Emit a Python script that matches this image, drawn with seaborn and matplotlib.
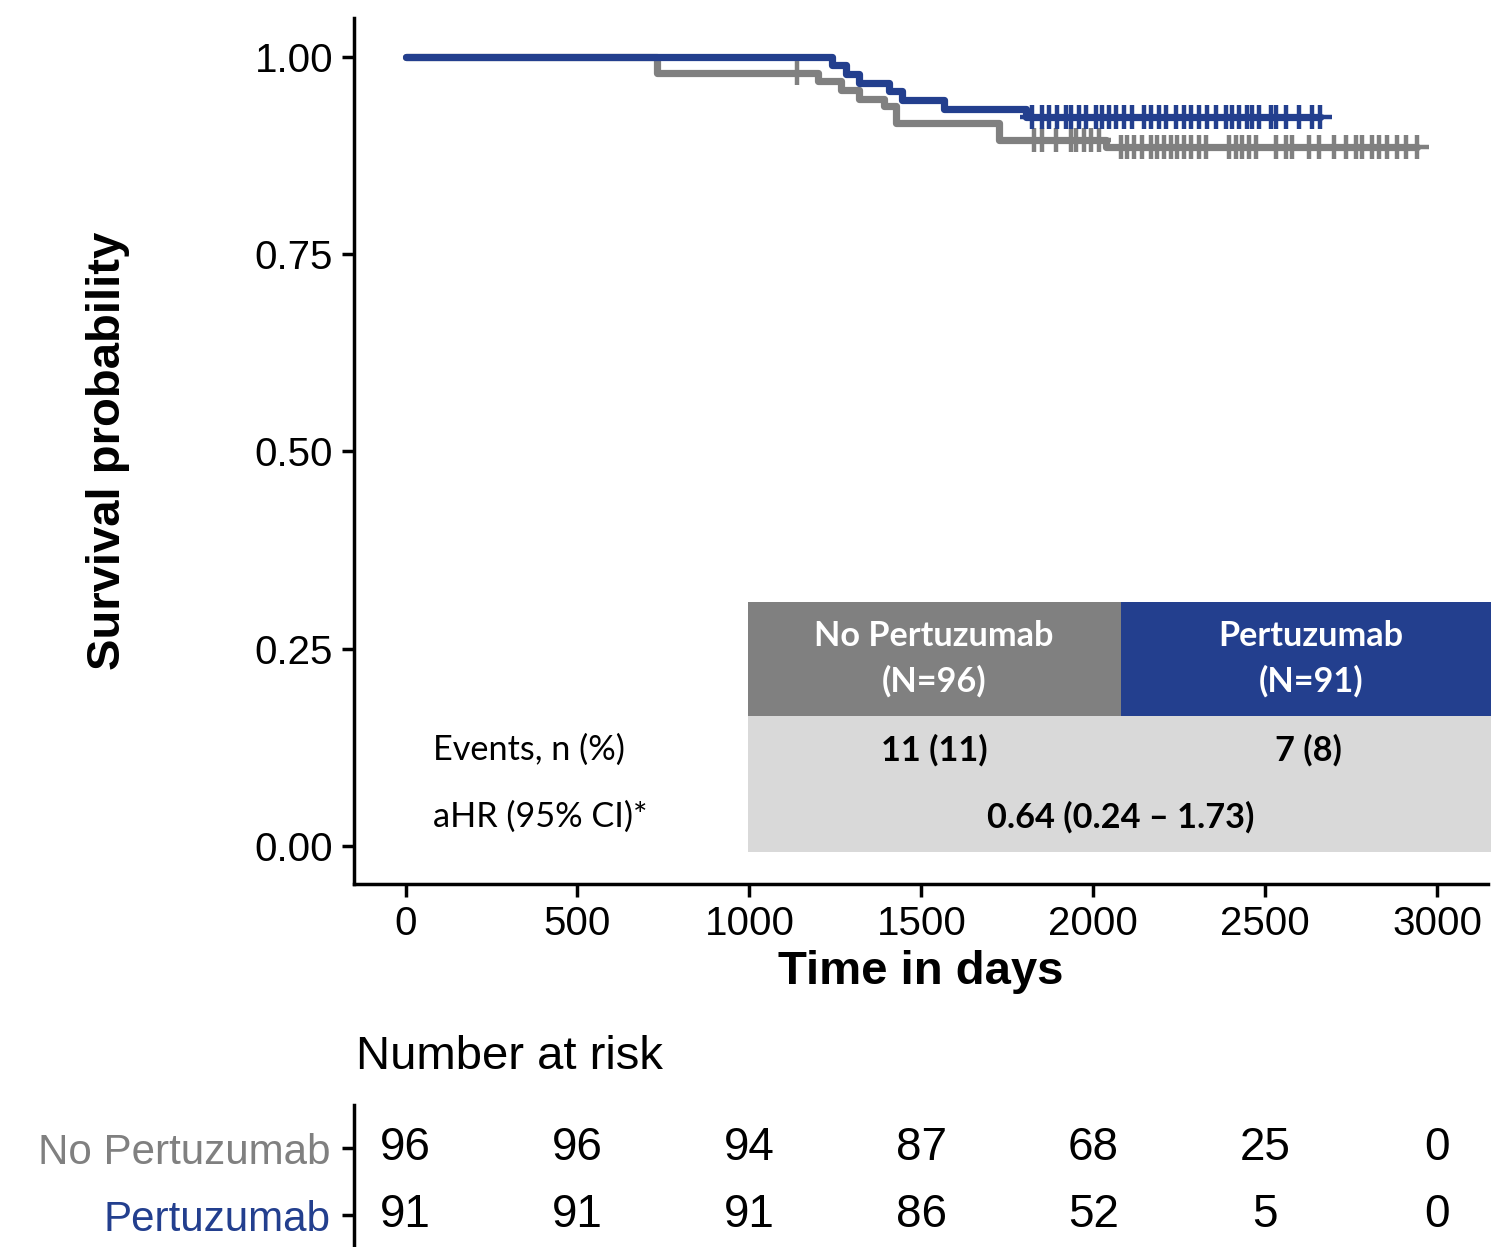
import numpy as np
import pandas as pd
import seaborn as sns
import matplotlib.pyplot as plt
from matplotlib.patches import Rectangle

# survival steps (time in days, survival after the step)
no_pertu_times = [0, 730, 1198, 1267, 1320, 1392, 1427, 1727, 2038]
no_pertu_surv = [1.0, 0.979, 0.969, 0.958, 0.947, 0.937, 0.916, 0.895, 0.885]
no_pertu_end = 2942
no_pertu_censor = [1137, 1828, 1852, 1892, 1936, 1951, 1974, 1994, 2017,
                   2081, 2099, 2119, 2142, 2169, 2186, 2206, 2227, 2244, 2265,
                   2285, 2308, 2328, 2395, 2416, 2433, 2453, 2474, 2532, 2561,
                   2578, 2628, 2657, 2701, 2736, 2765, 2782, 2811, 2831, 2855,
                   2884, 2910, 2942]

pertu_times = [0, 1241, 1282, 1320, 1407, 1445, 1567, 1805]
pertu_surv = [1.0, 0.989, 0.978, 0.967, 0.956, 0.945, 0.934, 0.923]
pertu_end = 2660
pertu_censor = [1823, 1852, 1872, 1895, 1922, 1936, 1959, 1980, 2009, 2026,
                2047, 2067, 2090, 2113, 2148, 2169, 2192, 2212, 2241, 2265,
                2285, 2308, 2331, 2358, 2387, 2404, 2424, 2448, 2462, 2483,
                2517, 2532, 2561, 2599, 2637, 2660]

groups = ['No Pertuzumab', 'Pertuzumab']
risk_times = [0, 500, 1000, 1500, 2000, 2500, 3000]
risk_no_pertu = [96, 96, 94, 87, 68, 25, 0]
risk_pertu = [91, 91, 91, 86, 52, 5, 0]

events = ['11 (11)', '7 (8)']
n_total = [96, 91]
ahr_text = '0.64 (0.24 \u2013 1.73)'

GRAY = '#808080'
BLUE = '#233f8e'
palette = {groups[0]: GRAY, groups[1]: BLUE}

sns.set_theme(style='ticks')
plt.rcParams['font.family'] = ['Liberation Sans', 'DejaVu Sans']
plt.rcParams.update({'text.color': 'black', 'axes.labelcolor': 'black',
                     'xtick.color': 'black', 'ytick.color': 'black'})
TFONT = ['Lato', 'DejaVu Sans']
TSIZE = 24.7

W, H = 1491, 1247
fig = plt.figure(figsize=(W / 100, H / 100), dpi=100)


def fx(px):
    return px / W


def fy(py):
    return 1 - py / H


ax = fig.add_axes([fx(354), fy(884), fx(1488) - fx(354), fy(18) - fy(884)])

rows = []
for g, t, s, end in [(groups[0], no_pertu_times, no_pertu_surv, no_pertu_end),
                     (groups[1], pertu_times, pertu_surv, pertu_end)]:
    for ti, si in zip(list(t) + [end], list(s) + [s[-1]]):
        rows.append({'group': g, 'time': ti, 'surv': si})
curves = pd.DataFrame(rows)

sns.lineplot(data=curves, x='time', y='surv', hue='group', palette=palette,
             estimator=None, sort=False, drawstyle='steps-post', lw=5.2,
             legend=False, ax=ax)

cens_rows = []
for g, t, s, c in [(groups[0], no_pertu_times, no_pertu_surv, no_pertu_censor),
                   (groups[1], pertu_times, pertu_surv, pertu_censor)]:
    idx = np.searchsorted(t, c, side='right') - 1
    for ci, ii in zip(c, idx):
        cens_rows.append({'group': g, 'time': ci, 'surv': s[ii]})
cens = pd.DataFrame(cens_rows)
sns.scatterplot(data=cens, x='time', y='surv', hue='group', palette=palette,
                marker='+', s=300, linewidth=3.2, legend=False, ax=ax, zorder=3)

ax.set_xlim(-150, 3148)
ax.set_ylim(-0.048, 1.049)
ax.set_xticks(risk_times)
ax.set_yticks([0, 0.25, 0.5, 0.75, 1.0])
ax.set_yticklabels(['0.00', '0.25', '0.50', '0.75', '1.00'])
ax.tick_params(labelsize=29, width=2.5, length=9, pad=6)
for side in ['top', 'right']:
    ax.spines[side].set_visible(False)
for side in ['left', 'bottom']:
    ax.spines[side].set_linewidth(2.5)
    ax.spines[side].set_color('black')
ax.set_xlabel('Time in days', fontsize=34, fontweight='bold')
ax.set_ylabel('Survival probability', fontsize=34, fontweight='bold')
ax.xaxis.label.set_va('center')
ax.yaxis.label.set_va('center')
ax.xaxis.set_label_coords((921 - 354) / 1134, (884 - 972) / 866)
ax.yaxis.set_label_coords((108 - 354) / 1134, 0.5)

# summary table inside the plot
cells = [(748, 602, 373, 114, GRAY), (1121, 602, 370, 114, BLUE),
         (748, 716, 743, 136, '#d9d9d9')]
for x0, y0, w, h, col in cells:
    ax.add_patch(Rectangle((fx(x0), fy(y0 + h)), w / W, h / H,
                           transform=fig.transFigure, facecolor=col,
                           edgecolor='none', zorder=0.5, clip_on=False))
for cx, g, n in [(934, 'No Pertuzumab', n_total[0]), (1311, 'Pertuzumab', n_total[1])]:
    fig.text(fx(cx), fy(636), g, color='white', fontsize=TSIZE, fontweight='bold',
             ha='center', va='center', family=TFONT)
    fig.text(fx(cx), fy(681), f'(N={n})', color='white', fontsize=TSIZE,
             fontweight='bold', ha='center', va='center', family=TFONT)
fig.text(fx(934), fy(750), events[0], fontsize=TSIZE, fontweight='bold',
         ha='center', va='center', family=TFONT)
fig.text(fx(1308), fy(750), events[1], fontsize=TSIZE, fontweight='bold',
         ha='center', va='center', family=TFONT)
fig.text(fx(1121), fy(817), ahr_text, fontsize=TSIZE, fontweight='bold',
         ha='center', va='center', family=TFONT)
fig.text(fx(433), fy(750), 'Events, n (%)', fontsize=TSIZE, ha='left',
         va='center', family=TFONT)
fig.text(fx(433), fy(817), 'aHR (95% CI)*', fontsize=TSIZE, ha='left',
         va='center', family=TFONT)

# number at risk table
ax2 = fig.add_axes([fx(354), fy(1250), fx(1488) - fx(354), fy(1105) - fy(1250)])
for row, vals in enumerate([risk_no_pertu, risk_pertu]):
    for t, v in zip(risk_times, vals):
        ax2.text(t, row, str(v), fontsize=33, ha='center', va='center')
ax2.set_xlim(ax.get_xlim())
ax2.set_ylim(1 + 35 / 68, -44 / 68)
ax2.set_yticks([0, 1])
ax2.set_yticklabels(groups)
ax2.set_xticks([])
ax2.tick_params(axis='y', labelsize=30.3, width=2.5, length=9, pad=8)
for lab, g in zip(ax2.get_yticklabels(), groups):
    lab.set_color(palette[g])
for side in ['top', 'right', 'bottom']:
    ax2.spines[side].set_visible(False)
ax2.spines['left'].set_linewidth(2.5)
ax2.spines['left'].set_color('black')
ax2.patch.set_alpha(0)
fig.text(fx(356), fy(1057), 'Number at risk', fontsize=34, ha='left', va='center')

fig.savefig('out.png', dpi=100)
